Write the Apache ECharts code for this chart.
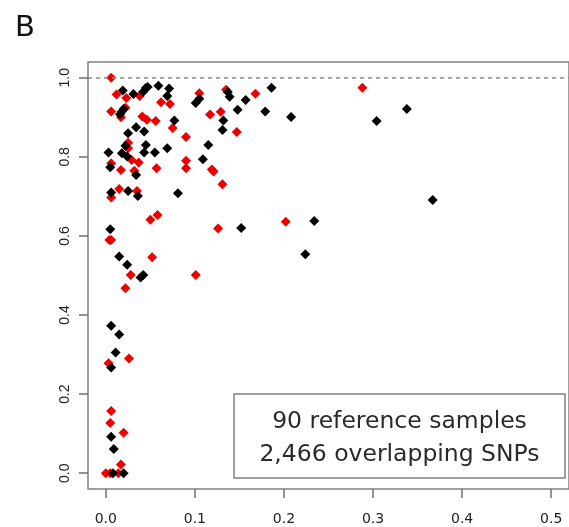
<!DOCTYPE html>
<html>
<head>
<meta charset="utf-8">
<script src="https://cdn.jsdelivr.net/npm/echarts@6/dist/echarts.min.js"></script>
<style>
  html, body { margin: 0; padding: 0; background: #fff; }
  #chart { width: 569px; height: 527px; }
</style>
</head>
<body>
<div id="chart"></div>
<script>
// Points coloured black: [x, y]
const blackPoints = [
  [0.019, 0.968], [0.031, 0.959], [0.042, 0.965], [0.045, 0.974], [0.047, 0.977],
  [0.059, 0.980], [0.071, 0.973], [0.069, 0.954], [0.016, 0.908], [0.018, 0.915],
  [0.020, 0.921], [0.077, 0.892], [0.034, 0.875], [0.043, 0.864], [0.025, 0.860],
  [0.115, 0.830], [0.022, 0.828], [0.045, 0.830], [0.003, 0.811], [0.018, 0.809],
  [0.024, 0.801], [0.043, 0.811], [0.055, 0.811], [0.069, 0.822], [0.109, 0.794],
  [0.005, 0.774], [0.034, 0.754], [0.006, 0.710], [0.025, 0.714], [0.036, 0.701],
  [0.081, 0.708], [0.152, 0.620], [0.005, 0.617], [0.015, 0.548], [0.101, 0.936],
  [0.105, 0.947], [0.132, 0.892], [0.131, 0.868], [0.148, 0.919], [0.137, 0.964],
  [0.139, 0.952], [0.157, 0.944], [0.186, 0.975], [0.179, 0.915], [0.208, 0.901],
  [0.304, 0.891], [0.338, 0.921], [0.367, 0.691], [0.234, 0.638], [0.224, 0.554],
  [0.024, 0.527], [0.039, 0.495], [0.042, 0.501], [0.006, 0.373], [0.015, 0.351],
  [0.011, 0.305], [0.006, 0.267], [0.006, 0.092], [0.009, 0.061], [0.008, 0.000],
  [0.020, 0.000]
];

// Points coloured red: [x, y]
const redPoints = [
  [0.006, 1.000], [0.012, 0.958], [0.023, 0.949], [0.038, 0.954], [0.062, 0.938],
  [0.072, 0.934], [0.006, 0.915], [0.022, 0.924], [0.017, 0.900], [0.041, 0.902],
  [0.046, 0.894], [0.056, 0.891], [0.075, 0.873], [0.090, 0.850], [0.025, 0.836],
  [0.025, 0.822], [0.029, 0.792], [0.037, 0.786], [0.006, 0.784], [0.090, 0.790],
  [0.090, 0.771], [0.057, 0.771], [0.017, 0.767], [0.032, 0.765], [0.119, 0.768],
  [0.121, 0.763], [0.131, 0.731], [0.015, 0.719], [0.006, 0.697], [0.035, 0.714],
  [0.050, 0.641], [0.058, 0.653], [0.126, 0.619], [0.006, 0.590], [0.004, 0.590],
  [0.052, 0.546], [0.105, 0.961], [0.117, 0.907], [0.129, 0.914], [0.147, 0.863],
  [0.135, 0.970], [0.168, 0.960], [0.288, 0.975], [0.202, 0.636], [0.028, 0.501],
  [0.101, 0.501], [0.022, 0.468], [0.026, 0.290], [0.003, 0.278], [0.006, 0.157],
  [0.005, 0.127], [0.020, 0.102], [0.017, 0.022], [0.000, 0.000], [0.005, 0.000],
  [0.014, 0.000]
];

// Tick positions
const xTicks = [0.0, 0.1, 0.2, 0.3, 0.4, 0.5];
const yTicks = [0.0, 0.2, 0.4, 0.6, 0.8, 1.0];

// Annotation lines
const noteLines = ['90 reference samples', '2,466 overlapping SNPs'];

const chart = echarts.init(document.getElementById('chart'), null, { renderer: 'canvas' });

const tickStyle = { color: '#707070', width: 1.5 };

chart.setOption({
  animation: false,
  backgroundColor: '#fff',
  grid: {
    left: 88, top: 62, width: 486, height: 427,
    show: true, borderColor: '#808080', borderWidth: 1.5, backgroundColor: 'transparent'
  },
  xAxis: {
    type: 'value', min: -0.02, max: 0.52,
    axisLine: { show: false, onZero: false },
    splitLine: { show: false },
    axisTick: { show: true, inside: false, length: 9, lineStyle: tickStyle, customValues: xTicks },
    axisLabel: {
      customValues: xTicks, margin: 23,
      fontFamily: 'DejaVu Sans', fontSize: 14, color: '#222',
      formatter: v => v.toFixed(1)
    }
  },
  yAxis: {
    type: 'value', min: -0.04, max: 1.04,
    axisLine: { show: false, onZero: false },
    splitLine: { show: false },
    axisTick: { show: true, inside: false, length: 9, lineStyle: tickStyle, customValues: yTicks },
    axisLabel: {
      customValues: yTicks, margin: 16, rotate: 90,
      fontFamily: 'Liberation Sans', fontSize: 14, color: '#222',
      formatter: v => v.toFixed(1)
    }
  },
  series: [
    {
      name: 'red', type: 'scatter', data: redPoints,
      symbol: 'diamond', symbolSize: 10,
      itemStyle: { color: '#ee0000', opacity: 1 },
      markLine: {
        silent: true, symbol: 'none',
        label: { show: false },
        lineStyle: { color: '#8a8a8a', type: [4, 4], width: 1.5 },
        data: [{ yAxis: 1.0 }]
      }
    },
    {
      name: 'black', type: 'scatter', data: blackPoints,
      symbol: 'diamond', symbolSize: 10,
      itemStyle: { color: '#000', opacity: 1 }
    }
  ],
  graphic: [
    {
      type: 'text', left: 15, top: 14,
      style: { text: 'B', font: '29px "DejaVu Sans"', fill: '#111' }
    },
    {
      type: 'rect', z: 10,
      shape: { x: 234, y: 394, width: 331, height: 84 },
      style: { fill: '#fff', stroke: '#808080', lineWidth: 1.5 }
    },
    {
      type: 'text', z: 11, x: 399.5, y: 422,
      style: { text: noteLines[0], font: '23.5px "DejaVu Sans"', fill: '#2a2a2a', align: 'center', verticalAlign: 'middle' }
    },
    {
      type: 'text', z: 11, x: 399.5, y: 455,
      style: { text: noteLines[1], font: '23.5px "DejaVu Sans"', fill: '#2a2a2a', align: 'center', verticalAlign: 'middle' }
    }
  ]
});
</script>
</body>
</html>
